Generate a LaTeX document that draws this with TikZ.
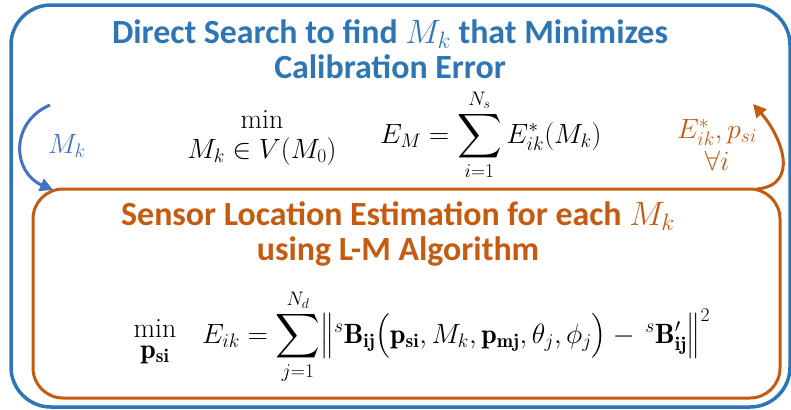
\RequirePackage{fix-cm}
\documentclass[tikz,border=0pt]{standalone}
\usepackage{amsmath}
\usepackage{graphicx}
\usepackage{fontspec}
\newfontfamily\calib{Carlito}
\usetikzlibrary{arrows.meta}
\definecolor{boxblue}{HTML}{2E75B6}
\definecolor{loopblue}{HTML}{4472C4}
\definecolor{rust}{HTML}{C55A11}
% a somewhat larger display summation sign
\newcommand{\bigsum}{\mathop{\vcenter{\hbox{\scalebox{1.25}{$\displaystyle\sum$}}}}\limits}
\tikzset{
  headline/.style={font=\calib\bfseries\fontsize{34}{35}\selectfont, align=center, inner sep=0pt, anchor=base},
  formula/.style={font=\fontsize{28}{30}\selectfont, inner sep=0pt},
  loop/.style={line width=3bp, -{Triangle[length=13bp,width=13bp]}},
}
\begin{document}
\begin{tikzpicture}[x=1bp,y=-1bp]
\clip (0,0) rectangle (791,409);
% outer loop frame and inner estimation frame
\draw[boxblue, line width=3.5bp, rounded corners=40bp] (11,5) rectangle (790,407);
\draw[rust, line width=3bp, rounded corners=30bp] (33,189) rectangle (780,398);

% headings (base anchor sits on the last line)
\node[headline, text=boxblue] (search) at (390,78)
  {Direct Search to find $M_k$ that Minimizes\\Calibration Error};
\node[headline, text=rust] (estim) at (398,260)
  {Sensor Location Estimation for each $M_k$\\using L-M Algorithm};

% outer objective
\node[formula, align=center, anchor=base, font=\fontsize{28}{30}\selectfont] (minM) at (262,158)
  {min\\$M_k\in V(M_0)$};
\node[formula, anchor=base west] (EM) at (380,143)
  {$E_M=\bigsum_{i=1}^{N_s}E^*_{ik}(M_k)$};

% inner objective
\node[formula, align=center, anchor=base, font=\fontsize{28}{21}\selectfont] (minp) at (155,358)
  {min\\$\mathbf{p}_{\mathbf{si}}$};
\node[formula, anchor=base west] (Eik) at (202,343)
  {$E_{ik}=\bigsum_{j=1}^{N_d}\bigl\|{}^{s}\mathbf{B}_{\mathbf{ij}}\bigl(\mathbf{p}_{\mathbf{si}},M_k,\mathbf{p}_{\mathbf{mj}},\theta_j,\phi_j\bigr)-\,{}^{s}\mathbf{B}'_{\mathbf{ij}}\bigr\|^2$};

% loop labels
\node[formula, anchor=base west, text=loopblue] (mk) at (48,153) {$M_k$};
\node[formula, align=center, anchor=base, text=rust, font=\fontsize{28}{32}\selectfont] (back) at (717,170)
  {$E^*_{ik},p_{si}$\\$\forall i$};

% loop arrows
\coordinate (downstart) at (50,105);
\coordinate (downend) at (53,190);
\coordinate (upstart) at (757,189);
\coordinate (upend) at (753,104);
\draw[loop, loopblue] (downstart) .. controls (10,122) and (12,172) .. (downend);
\draw[loop, rust] (upstart) .. controls (800,185) and (782,137) .. (upend);
\end{tikzpicture}
\end{document}
